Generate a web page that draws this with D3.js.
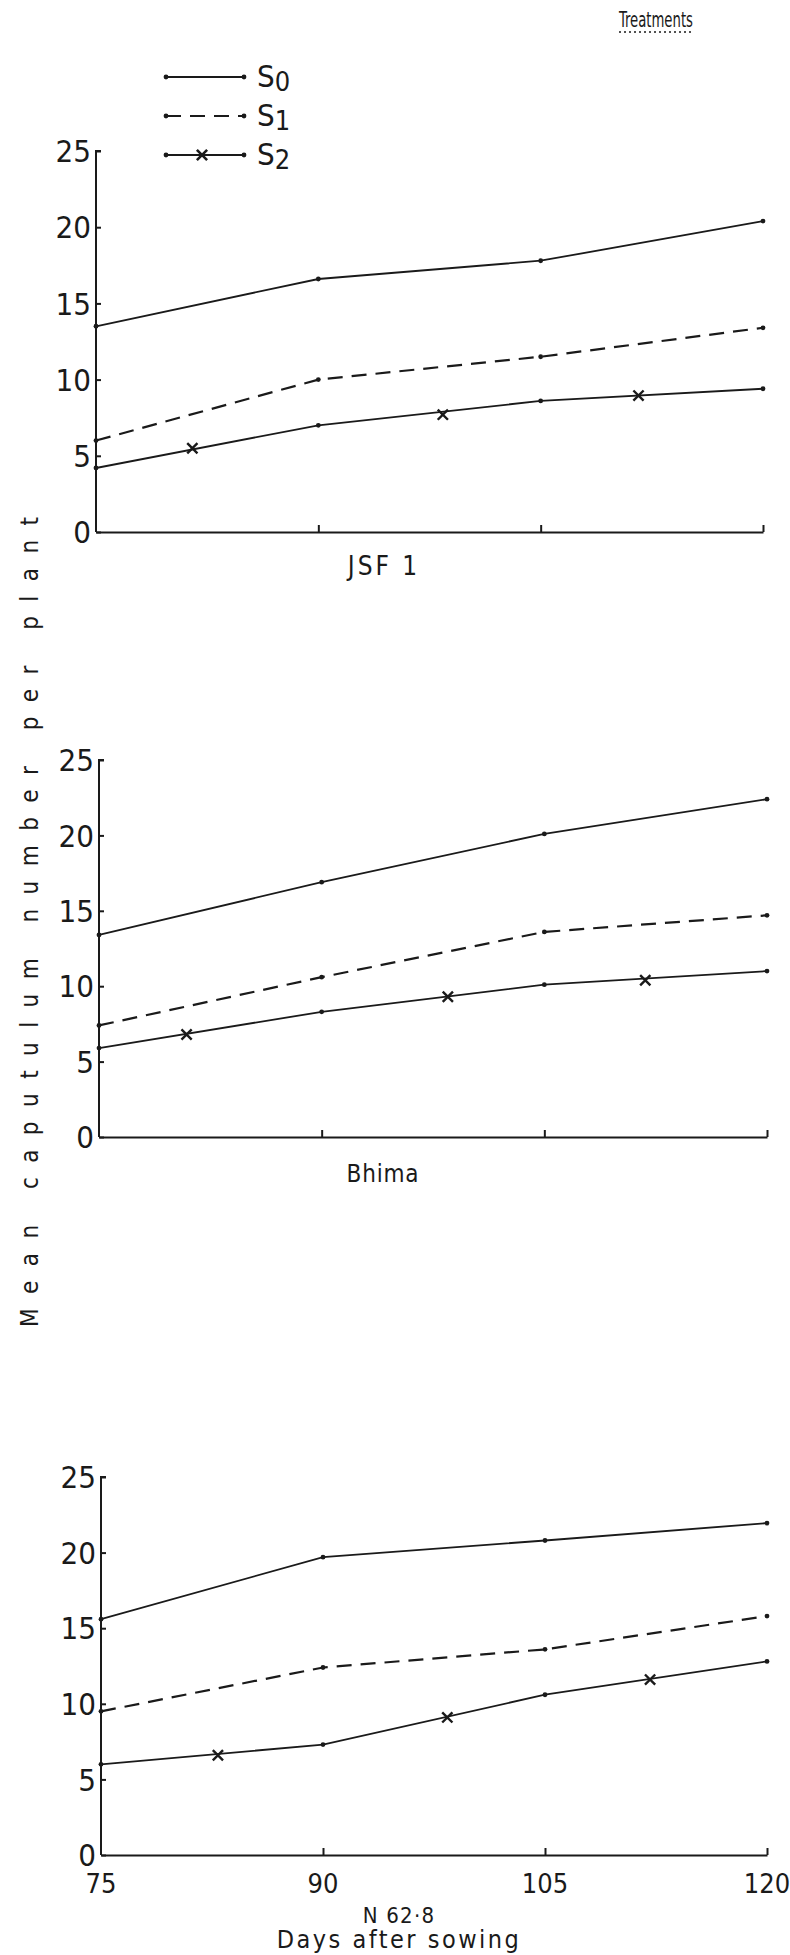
<!DOCTYPE html>
<html>
<head>
<meta charset="utf-8">
<script src="https://cdn.jsdelivr.net/npm/d3@7"></script>
<style>
  html, body { margin: 0; padding: 0; background: #fff; }
  svg text { font-family: "Liberation Sans Narrow", "DejaVu Sans Condensed", "Liberation Sans", sans-serif; fill: #1a1a1a; }
</style>
</head>
<body>
<svg id="chart" width="790" height="1955"></svg>
<script>
// ---------------- data ----------------
const days = [75, 90, 105, 120];
const xTickLabels = ["75", "90", "105", "120"];
const yTickValues = [0, 5, 10, 15, 20, 25];
const seriesNames = ["S0", "S1", "S2"];
const varieties = ["JSF 1", "Bhima", "N 62·8"];

// JSF 1
const jsf1S0 = [13.5, 16.6, 17.8, 20.4];
const jsf1S1 = [6.0, 10.0, 11.5, 13.4];
const jsf1S2 = [4.2, 7.0, 8.6, 9.4];
const jsf1MarkDays = [81.5, 98.4, 111.6];
const jsf1MarkVals = [5.5, 7.7, 8.95];

// Bhima
const bhimaS0 = [13.4, 16.9, 20.1, 22.4];
const bhimaS1 = [7.4, 10.6, 13.6, 14.7];
const bhimaS2 = [5.9, 8.3, 10.1, 11.0];
const bhimaMarkDays = [80.9, 98.5, 111.8];
const bhimaMarkVals = [6.8, 9.3, 10.4];

// N 62-8
const n628S0 = [15.6, 19.7, 20.8, 21.95];
const n628S1 = [9.5, 12.4, 13.6, 15.8];
const n628S2 = [6.0, 7.3, 10.6, 12.8];
const n628MarkDays = [82.9, 98.4, 112.1];
const n628MarkVals = [6.6, 9.1, 11.6];

const legendTitle = "Treatments";
const yTitle = "Mean caputulum number per plant";
const xTitle = "Days after sowing";

// ---------------- layout ----------------
const panels = [
  { name: varieties[0], s: [jsf1S0, jsf1S1, jsf1S2], md: jsf1MarkDays, mv: jsf1MarkVals,
    top: 151, bottom: 532, left: 96, right: 763, labelX: 384, labelY: 575, fs: 26, ls: 3, xLabels: false },
  { name: varieties[1], s: [bhimaS0, bhimaS1, bhimaS2], md: bhimaMarkDays, mv: bhimaMarkVals,
    top: 760, bottom: 1137, left: 99, right: 767, labelX: 383, labelY: 1182, fs: 24, ls: 0.8, xLabels: false },
  { name: varieties[2], s: [n628S0, n628S1, n628S2], md: n628MarkDays, mv: n628MarkVals,
    top: 1477, bottom: 1855, left: 101, right: 767, labelX: 399, labelY: 1923, fs: 22, ls: 1.2, xLabels: true }
];

const svg = d3.select("#chart");
const ink = "#1a1a1a";
const dashes = [null, "15,9", null];

panels.forEach(p => {
  const x = d3.scaleLinear().domain([75, 120]).range([p.left, p.right]);
  const y = d3.scaleLinear().domain([0, 25]).range([p.bottom, p.top]);
  const g = svg.append("g");

  // y axis (ticks pointing inward)
  const ya = g.append("g").attr("transform", `translate(${p.left},0)`)
    .call(d3.axisRight(y).tickValues(yTickValues).tickSize(5).tickFormat(""));
  ya.select(".domain").attr("d", `M5,${p.top}H0V${p.bottom}`).attr("stroke", ink).attr("stroke-width", 2);
  ya.selectAll(".tick line").attr("stroke", ink).attr("stroke-width", 2);
  g.selectAll(".ylab").data(yTickValues).enter().append("text")
    .attr("x", p.left - 5).attr("y", d => y(d)).attr("dy", "0.36em")
    .attr("text-anchor", "end").attr("font-size", 31).text(d => d);

  // x axis (ticks pointing up)
  const xa = g.append("g").attr("transform", `translate(0,${p.bottom})`)
    .call(d3.axisTop(x).tickValues(days).tickSize(7).tickSizeOuter(0).tickFormat(""));
  xa.select(".domain").attr("stroke", ink).attr("stroke-width", 2);
  xa.selectAll(".tick line").attr("stroke", ink).attr("stroke-width", 2)
    .filter(d => d === 75).remove();

  if (p.xLabels) {
    g.selectAll(".xlab").data(days).enter().append("text")
      .attr("x", d => x(d)).attr("y", p.bottom + 38)
      .attr("text-anchor", "middle").attr("font-size", 27)
      .text((d, i) => xTickLabels[i]);
  }

  // series lines
  const line = d3.line().x((d, i) => x(days[i])).y(d => y(d));
  p.s.forEach((vals, k) => {
    g.append("path").datum(vals).attr("d", line)
      .attr("fill", "none").attr("stroke", ink)
      .attr("stroke-width", k === 1 ? 2.2 : 1.8)
      .attr("stroke-dasharray", dashes[k]);
    g.selectAll(null).data(vals).enter().append("circle")
      .attr("cx", (d, i) => x(days[i])).attr("cy", d => y(d)).attr("r", 2.4).attr("fill", ink);
  });

  // S2 cross markers
  const sym = d3.symbol().type(d3.symbolTimes).size(70);
  g.selectAll(null).data(p.md).enter().append("path")
    .attr("d", sym)
    .attr("transform", (d, i) => `translate(${x(d)},${y(p.mv[i])})`)
    .attr("fill", "none").attr("stroke", ink).attr("stroke-width", 2.4);

  // variety label
  g.append("text").attr("x", p.labelX).attr("y", p.labelY)
    .attr("text-anchor", "middle").attr("font-size", p.fs)
    .attr("letter-spacing", p.ls).attr("xml:space", "preserve").text(p.name);
});

// legend
const legY = [77, 116, 155];
const lg = svg.append("g");
seriesNames.forEach((nm, k) => {
  lg.append("line").attr("x1", 166).attr("x2", 244).attr("y1", legY[k]).attr("y2", legY[k])
    .attr("stroke", ink).attr("stroke-width", 1.8).attr("stroke-dasharray", dashes[k]);
  [166, 244].forEach(cx => lg.append("circle").attr("cx", cx).attr("cy", legY[k]).attr("r", 2.4).attr("fill", ink));
  if (k === 2) {
    lg.append("path").attr("d", d3.symbol().type(d3.symbolTimes).size(70))
      .attr("transform", `translate(202,${legY[k]})`)
      .attr("fill", "none").attr("stroke", ink).attr("stroke-width", 2.6);
  }
  const t = lg.append("text").attr("x", 257).attr("y", legY[k] + 10).attr("font-size", 31);
  t.append("tspan").text(nm[0]);
  t.append("tspan").attr("dy", 4).attr("font-size", 27).text(nm.slice(1));
});

// legend title with dotted underline
svg.append("text").attr("x", 656).attr("y", 27).attr("text-anchor", "middle")
  .attr("font-size", 21).attr("textLength", 74).attr("lengthAdjust", "spacingAndGlyphs").text(legendTitle);
svg.append("line").attr("x1", 619).attr("x2", 693).attr("y1", 32).attr("y2", 32)
  .attr("stroke", ink).attr("stroke-width", 1.4).attr("stroke-dasharray", "2,3");

// y title
svg.append("text")
  .attr("transform", "translate(38,922) rotate(-90)")
  .attr("text-anchor", "middle").attr("font-size", 24)
  .attr("textLength", 810).attr("lengthAdjust", "spacing")
  .text(yTitle);

// x title
svg.append("text").attr("x", 399).attr("y", 1948).attr("text-anchor", "middle")
  .attr("font-size", 25).attr("letter-spacing", 2.5).text(xTitle);
</script>
</body>
</html>
